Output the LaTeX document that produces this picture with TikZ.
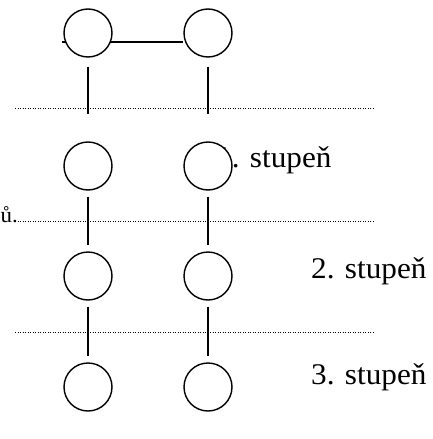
\documentclass[tikz,border=0pt]{standalone}
\usepackage{fontspec}
\setmainfont{Liberation Serif}
\newfontfamily\lblfont{Liberation Serif}[FakeStretch=1.04]
\usetikzlibrary{positioning,backgrounds}

\begin{document}
\begin{tikzpicture}[x=1pt,y=-1pt,
    stage/.style={draw,circle,minimum size=48pt,inner sep=0pt,line width=1.4pt,fill=white},
    link/.style={line width=1.4pt},
    level/.style={line width=0.9pt,dash pattern=on 0.9pt off 1.6pt},
    lbl/.style={font=\lblfont\fontsize{30}{34}\selectfont,inner sep=0pt,anchor=base west}]
    \useasboundingbox (0,0) rectangle (433,439);

    % stages, two columns
    \node[stage] (l1) at (88,33) {};
    \node[stage] (r1) at (208,33) {};
    \node[stage] (l2) at (88,166) {};
    \node[stage] (r2) at (208,166) {};
    \node[stage] (l3) at (88,276) {};
    \node[stage] (r3) at (208,276) {};
    \node[stage] (l4) at (88,387) {};
    \node[stage] (r4) at (208,387) {};

    \begin{scope}[on background layer]
    % labels
    \node[lbl] (s1) at (216,167) {1. stupeň};
    \node[lbl] (s2) at (311,278) {2. stupeň};
    \node[lbl] (s3) at (311,384) {3. stupeň};
    \node[lbl,font=\lblfont\fontsize{22}{26}\selectfont] (cut) at (0.5,222) {ů.};

    % level boundaries
    \coordinate (a1) at (15,108); \coordinate (b1) at (374,108);
    \coordinate (a2) at (15,221); \coordinate (b2) at (374,221);
    \coordinate (a3) at (15,332); \coordinate (b3) at (374,332);
    \draw[level] (a1) -- (b1);
    \draw[level] (a2) -- (b2);
    \draw[level] (a3) -- (b3);

    \draw[link] ([xshift=-1pt,yshift=-9pt]l1.west) -- ([yshift=-9pt]r1.west);
    \end{scope}

    % vertical links
    \draw[link,shorten <=9pt,shorten >=27pt] (l1) -- (l2);
    \draw[link,shorten <=9pt,shorten >=27pt] (r1) -- (r2);
    \draw[link,shorten <=6pt,shorten >=6pt] (l2) -- (l3);
    \draw[link,shorten <=6pt,shorten >=6pt] (r2) -- (r3);
    \draw[link,shorten <=6pt,shorten >=6pt] (l3) -- (l4);
    \draw[link,shorten <=6pt,shorten >=6pt] (r3) -- (r4);
\end{tikzpicture}
\end{document}
